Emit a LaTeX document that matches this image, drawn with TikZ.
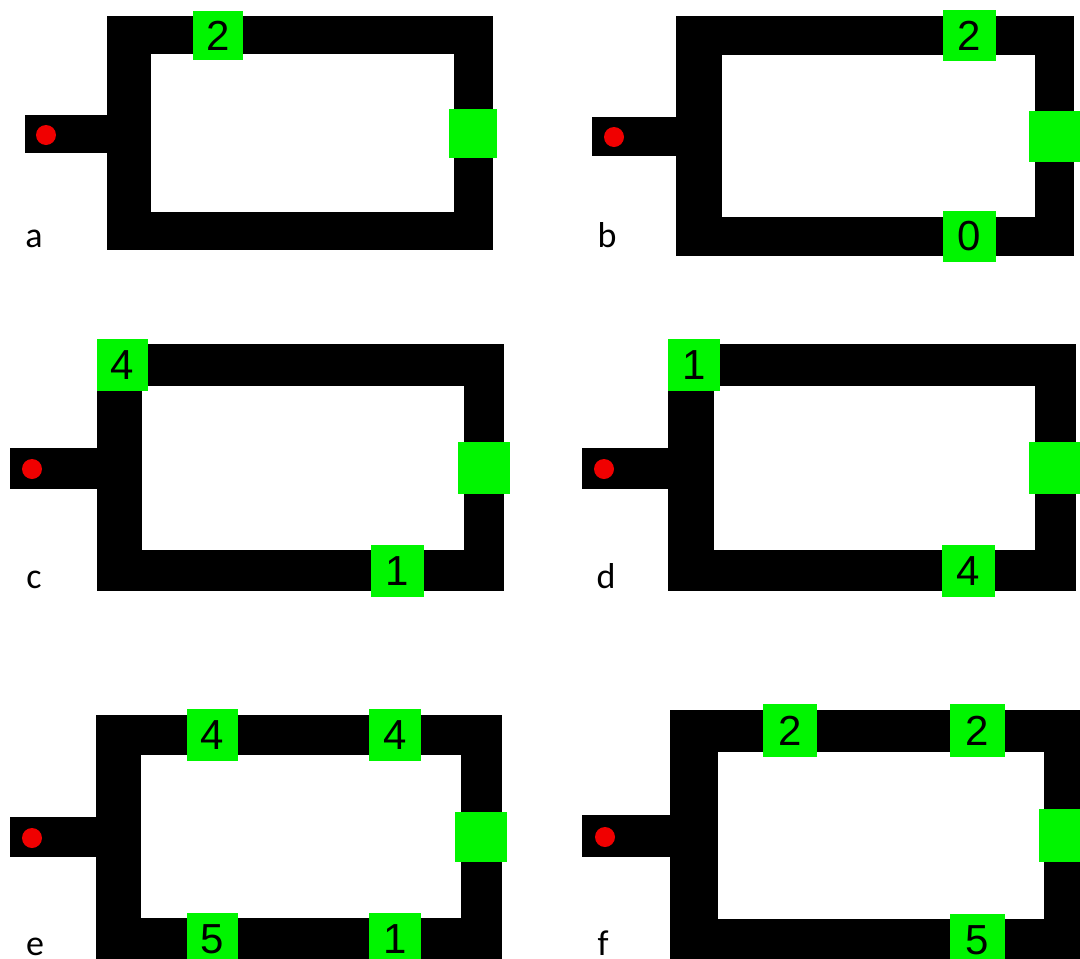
\documentclass[tikz,border=0pt]{standalone}
\usepackage{fontspec}
\setmainfont{Liberation Sans}
\newfontfamily\lblfont{Carlito}
\definecolor{gr}{RGB}{0,245,0}
\definecolor{rd}{RGB}{240,0,0}
\tikzset{
  wall/.style={fill=black, draw=none},
  hole/.style={fill=white, draw=none},
  gbox/.style={rectangle, fill=gr, draw=none, inner sep=0pt, font=\fontsize{42}{50}\selectfont},
  dotmark/.style={circle, fill=rd, draw=none, inner sep=0pt, minimum size=20pt},
  lbl/.style={anchor=base, inner sep=0pt, font=\lblfont\fontsize{36}{42}\selectfont}
}
\begin{document}
\begin{tikzpicture}[x=1pt,y=-1pt]
\clip (0,0) rectangle (1080,959);
\fill[white] (0,0) rectangle (1080,959);

% ---------- panel a ----------
\fill[wall] (25,115) rectangle (108,153);
\fill[wall] (107,16) rectangle (493,250);
\fill[hole] (151,54) rectangle (454,212);
\node[dotmark] (adot) at (46,135) {};
\node[gbox, minimum width=50pt, minimum height=49pt] (atop) at (218,35.5) {2};
\node[gbox, minimum width=48pt, minimum height=49pt] (aright) at (473,133.5) {};
\node[lbl] (alab) at (34,247) {a};

% ---------- panel b ----------
\fill[wall] (592,117) rectangle (677,156);
\fill[wall] (676,16) rectangle (1074,256);
\fill[hole] (722,55) rectangle (1035,217);
\node[dotmark] (bdot) at (614,137) {};
\node[gbox, minimum width=53pt, minimum height=51pt] (btop) at (969.5,35.5) {2};
\node[gbox, minimum width=53pt, minimum height=51pt] (bbot) at (969.5,236.5) {0};
\node[gbox, minimum width=51pt, minimum height=51pt] (bright) at (1054.5,136.5) {};
\node[lbl] (blab) at (607,247) {b};

% ---------- panel c ----------
\fill[wall] (10,448) rectangle (98,489);
\fill[wall] (97,344) rectangle (504,591);
\fill[hole] (142,386) rectangle (464,550);
\node[dotmark] (cdot) at (32,469) {};
\node[gbox, minimum width=51pt, minimum height=52pt] (ctop) at (122.5,365) {4};
\node[gbox, minimum width=53pt, minimum height=52pt] (cbot) at (397.5,571) {1};
\node[gbox, minimum width=52pt, minimum height=52pt] (cright) at (484,468) {};
\node[lbl] (clab) at (34,588) {c};

% ---------- panel d ----------
\fill[wall] (582,448) rectangle (669,489);
\fill[wall] (668,344) rectangle (1076,591);
\fill[hole] (714,386) rectangle (1035,550);
\node[dotmark] (ddot) at (604,469) {};
\node[gbox, minimum width=52pt, minimum height=52pt] (dtop) at (694,365) {1};
\node[gbox, minimum width=53pt, minimum height=52pt] (dbot) at (968.5,571) {4};
\node[gbox, minimum width=51pt, minimum height=52pt] (dright) at (1054.5,468) {};
\node[lbl] (dlab) at (606,588) {d};

% ---------- panel e ----------
\fill[wall] (10,817) rectangle (97,857);
\fill[wall] (96,715) rectangle (502,965);
\fill[hole] (141,755) rectangle (461,918);
\node[dotmark] (edot) at (32,838) {};
\node[gbox, minimum width=51pt, minimum height=52pt] (etopl) at (212.5,735) {4};
\node[gbox, minimum width=52pt, minimum height=52pt] (etopr) at (395,735) {4};
\node[gbox, minimum width=51pt, minimum height=52pt] (ebotl) at (212.5,939) {5};
\node[gbox, minimum width=52pt, minimum height=52pt] (ebotr) at (395,939) {1};
\node[gbox, minimum width=52pt, minimum height=50pt] (eright) at (481,837) {};
\node[lbl] (elab) at (35,955) {e};

% ---------- panel f ----------
\fill[wall] (582,815) rectangle (671,857);
\fill[wall] (670,710) rectangle (1090,970);
\fill[hole] (718,752) rectangle (1044,919);
\node[dotmark] (fdot) at (605,837) {};
\node[gbox, minimum width=54pt, minimum height=53pt] (ftopl) at (790,730.5) {2};
\node[gbox, minimum width=55pt, minimum height=53pt] (ftopr) at (977.5,730.5) {2};
\node[gbox, minimum width=55pt, minimum height=53pt] (fbot) at (977.5,940.5) {5};
\node[gbox, minimum width=52pt, minimum height=53pt] (fright) at (1065,835.5) {};
\node[lbl] (flab) at (603,955) {f};
\end{tikzpicture}
\end{document}
